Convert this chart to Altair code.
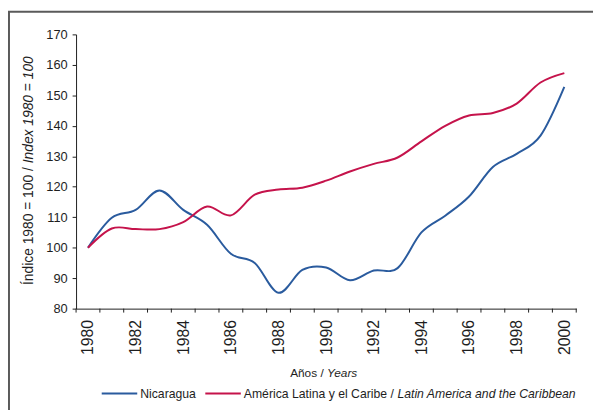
import altair as alt
import pandas as pd

# ---- data ----
years = list(range(1980, 2001))
nicaragua = [100, 109.8, 112.4, 118.8, 112.4, 107.5, 98.0, 95.0, 85.2, 92.7, 93.5,
             89.3, 92.5, 93.3, 105.0, 110.5, 116.8, 126.5, 130.8, 136.8, 152.8]
latam = [100, 106.3, 106.1, 106.1, 108.4, 113.5, 110.6, 117.4, 119.1, 119.7, 122.0,
         125.0, 127.5, 129.6, 134.9, 140.0, 143.4, 144.2, 147.3, 154.2, 157.3]
y_ticks = list(range(80, 171, 10))
x_labels = list(range(1980, 2001, 2))
tick_bounds = [y - 0.5 for y in years] + [years[-1] + 0.5]

FONT = "Liberation Sans"
BLUE = "#2a5b9e"
RED = "#c5134b"
INK = "#1e1e1e"

W, H = 507, 278
XLF = 16
YLF = 13

nic_df = pd.DataFrame({"year": years, "value": nicaragua})
lat_df = pd.DataFrame({"year": years, "value": latam})
tick_df = pd.DataFrame({"year": tick_bounds})

xscale = alt.Scale(domain=[1979.5, 2000.5], nice=False, zero=False)
yscale = alt.Scale(domain=[80, 170], nice=False, zero=False)

xaxis = alt.Axis(values=x_labels, ticks=False, labelAngle=270, labelFontSize=XLF,
                 labelPadding=11, format="d", grid=False, title=None, labelFlush=False,
                 labelOverlap=False, labelFont=FONT, labelColor=INK,
                 domainColor=INK, domainWidth=1)
yaxis = alt.Axis(values=y_ticks, tickSize=4, labelPadding=5, grid=False, title=None,
                 labelFontSize=YLF, labelFont=FONT, labelColor=INK, labelOverlap=False,
                 labelFlush=False,
                 domainColor=INK, tickColor=INK, domainWidth=1, tickWidth=1)

X = alt.X("year:Q", scale=xscale, axis=xaxis)
Y = alt.Y("value:Q", scale=yscale, axis=yaxis)

line_nic = alt.Chart(nic_df).mark_line(
    interpolate="cardinal", tension=0, strokeWidth=2, color=BLUE
).encode(x=X, y=Y)
line_lat = alt.Chart(lat_df).mark_line(
    interpolate="cardinal", tension=0, strokeWidth=2, color=RED
).encode(x=X, y=Y)

ticks = alt.Chart(tick_df).mark_rule(color=INK, strokeWidth=1).encode(
    x=X,
    y=alt.value(H),
    y2=alt.value(H + 4),
)

one = alt.Data(values=[{}])

def txt(s, x, y, size, angle=0, italic=False, align="left"):
    return alt.Chart(one).mark_text(
        text=s, font=FONT, fontSize=size, fontStyle="italic" if italic else "normal",
        angle=angle, align=align, baseline="alphabetic", color=INK
    ).encode(x=alt.value(x), y=alt.value(y))

# frame (left + top borders of the panel)
frame_left = alt.Chart(one).mark_rule(color="#5a5a5a", strokeWidth=2).encode(
    x=alt.value(-68), y=alt.value(-23), y2=alt.value(H + 110))
frame_top = alt.Chart(one).mark_rule(color="#5a5a5a", strokeWidth=2).encode(
    x=alt.value(-69), x2=alt.value(W + 30), y=alt.value(-23))

# y title (rotated, mixed style)
ytitle_a = txt("Índice 1980 = 100 / ", -43.7, 254, 14, angle=270)
ytitle_b = txt("Index 1980 = 100", -43.7, 254 - 8.812 * 14, 14, angle=270, italic=True)

# x title
xtitle_a = txt("Años / ", 217, 347, 12)
xtitle_b = txt("Years", 217 + 3.113 * 12, 347, 12, italic=True)

# legend
LF = 12.4
LY = 364
leg_blue = alt.Chart(one).mark_rule(color=BLUE, strokeWidth=2).encode(
    x=alt.value(26), x2=alt.value(62), y=alt.value(LY))
leg_red = alt.Chart(one).mark_rule(color=RED, strokeWidth=2).encode(
    x=alt.value(131), x2=alt.value(167), y=alt.value(LY))
leg_t1 = txt("Nicaragua", 65, LY + 4.5, LF)
leg_t2 = txt("América Latina y el Caribe / ", 170, LY + 4.5, LF)
leg_t3 = txt("Latin America and the Caribbean", 170 + 12.56 * LF, LY + 4.5, LF, italic=True)

chart = alt.layer(
    line_nic, line_lat, ticks, frame_left, frame_top,
    ytitle_a, ytitle_b, xtitle_a, xtitle_b,
    leg_blue, leg_red, leg_t1, leg_t2, leg_t3,
).properties(
    width=W, height=H,
    autosize=alt.AutoSizeParams(type="none"),
    padding={"left": 69, "top": 24, "right": 17, "bottom": 100},
    background="white",
).configure_view(stroke=None).configure_axisX(
    labelFontSize=XLF, labelFont=FONT
).configure_axisY(
    labelFontSize=YLF, labelFont=FONT
)

chart.save("out.html", embed_options={"renderer": "svg", "actions": False})
